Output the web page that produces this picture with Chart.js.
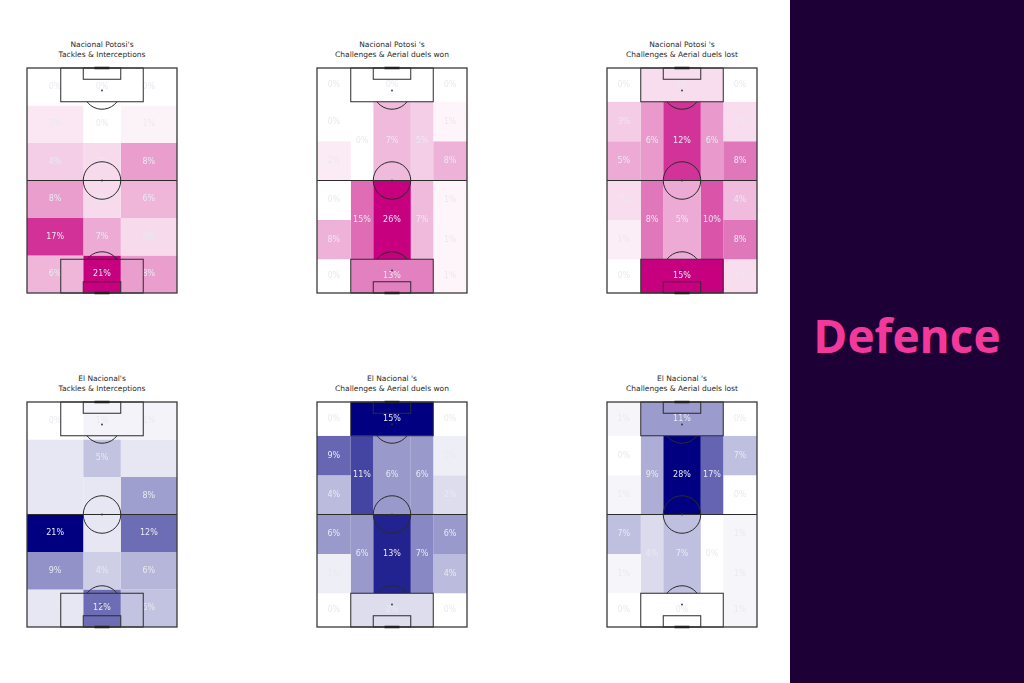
<!DOCTYPE html>
<html>
<head>
<meta charset="utf-8">
<script src="https://cdn.jsdelivr.net/npm/chart.js@4.4.0/dist/chart.umd.min.js"></script>
<style>
  body { margin: 0; width: 1024px; height: 683px; background: #fff; position: relative; overflow: hidden; font-family: "DejaVu Sans", sans-serif; }
  .title { position: absolute; width: 220px; text-align: center; font-size: 7.5px; line-height: 10px; color: #2a2a2a; }
  canvas { position: absolute; }
  #side { position: absolute; left: 790px; top: 0; width: 234px; height: 683px; background: #1c0036; }
  #side span { position: absolute; left: 0; width: 234px; top: 304px; text-align: center; font-family: "Open Sans", sans-serif; font-weight: 700; font-size: 46px; color: #f2399b; }
</style>
</head>
<body>
<div id="side"><span>Defence</span></div>
<script>
// タイトル
const titles = [
  ["Nacional Potosi's", "Tackles & Interceptions"],
  ["Nacional Potosi 's", "Challenges & Aerial duels won"],
  ["Nacional Potosi 's", "Challenges & Aerial duels lost"],
  ["El Nacional's", "Tackles & Interceptions"],
  ["El Nacional 's", "Challenges & Aerial duels won"],
  ["El Nacional 's", "Challenges & Aerial duels lost"]
];

// 3x6 のグリッド（StatsBomb 80x120, 上から下へ）
const gridCols = [0, 30, 50, 80];
const gridRows = [0, 20, 40, 60, 80, 100, 120];

// ポジショナル分割 [x0, x1, y0, y1]
const zones = [
  [0, 18, 0, 18], [18, 62, 0, 18], [62, 80, 0, 18],
  [0, 18, 18, 39], [0, 18, 39, 60], [0, 18, 60, 81], [0, 18, 81, 102],
  [18, 30, 18, 60], [18, 30, 60, 102],
  [30, 50, 18, 60], [30, 50, 60, 102],
  [50, 62, 18, 60], [50, 62, 60, 102],
  [62, 80, 18, 39], [62, 80, 39, 60], [62, 80, 60, 81], [62, 80, 81, 102],
  [0, 18, 102, 120], [18, 62, 102, 120], [62, 80, 102, 120]
];

// 値（%）
const potosiTackles = [0, 0, 0, 2, 0, 1, 4, 3, 8, 8, 3, 6, 17, 7, 3, 6, 21, 8];
const potosiWon     = [0, 0, 0, 0, 2, 0, 8, 0, 15, 7, 26, 5, 7, 1, 8, 1, 1, 0, 13, 1];
const potosiLost    = [0, 2, 0, 3, 5, 2, 1, 6, 8, 12, 5, 6, 10, 2, 8, 4, 8, 0, 15, 2];
const nacionalTackles = [0, 1, 1, 2, 5, 2, 2, 2, 8, 21, 2, 12, 9, 4, 6, 2, 12, 5];
const nacionalWon     = [0, 15, 0, 9, 4, 6, 1, 11, 6, 6, 13, 6, 7, 1, 2, 6, 4, 0, 2, 0];
const nacionalLost    = [1, 11, 0, 0, 1, 7, 1, 9, 4, 28, 7, 17, 0, 7, 0, 1, 1, 0, 0, 1];

const pink = [199, 0, 127];
const navy = [0, 0, 128];

// ピッチの位置
const pitchLeft = [27, 317, 607];
const pitchTop = [68, 402];
const PW = 150, PH = 225, PAD = 2;

function gridCells() {
  const out = [];
  for (let r = 0; r < gridRows.length - 1; r++)
    for (let c = 0; c < gridCols.length - 1; c++)
      out.push([gridCols[c], gridCols[c + 1], gridRows[r], gridRows[r + 1]]);
  return out;
}

function shade(v, max, end) {
  const t = max ? v / max : 0;
  const ch = i => Math.round(255 + (end[i] - 255) * t);
  return `rgb(${ch(0)},${ch(1)},${ch(2)})`;
}

function pitchPlugin(cells, values) {
  return {
    id: 'pitch',
    afterDatasetsDraw(chart) {
      const { ctx, scales: { x, y } } = chart;
      const px = v => x.getPixelForValue(v), py = v => y.getPixelForValue(v);
      const r = px(10) - px(0);
      ctx.save();
      // ラベル
      ctx.font = '8px "DejaVu Sans"';
      ctx.textAlign = 'center'; ctx.textBaseline = 'middle';
      ctx.fillStyle = '#e9e9f0';
      cells.forEach((c, i) => ctx.fillText(values[i] + '%', px((c[0] + c[1]) / 2), py((c[2] + c[3]) / 2)));
      // ライン
      ctx.strokeStyle = '#2b2b2b'; ctx.lineWidth = 1;
      const rect = (x0, x1, y0, y1) => ctx.strokeRect(px(x0), py(y0), px(x1) - px(x0), py(y1) - py(y0));
      rect(18, 62, 0, 18); rect(18, 62, 102, 120);
      rect(30, 50, 0, 6); rect(30, 50, 114, 120);
      ctx.beginPath(); ctx.moveTo(px(0), py(60)); ctx.lineTo(px(80), py(60)); ctx.stroke();
      ctx.beginPath(); ctx.arc(px(40), py(60), r, 0, Math.PI * 2); ctx.stroke();
      const a = Math.asin(0.6);
      ctx.beginPath(); ctx.arc(px(40), py(12), r, a, Math.PI - a); ctx.stroke();
      ctx.beginPath(); ctx.arc(px(40), py(108), r, Math.PI + a, Math.PI * 2 - a); ctx.stroke();
      ctx.fillStyle = '#333';
      [[40, 12], [40, 60], [40, 108]].forEach(p => { ctx.beginPath(); ctx.arc(px(p[0]), py(p[1]), 0.9, 0, Math.PI * 2); ctx.fill(); });
      ctx.lineWidth = 1.3; ctx.strokeStyle = '#3a3a3a';
      rect(0, 80, 0, 120);
      ctx.lineWidth = 2.5; ctx.strokeStyle = '#222';
      ctx.beginPath(); ctx.moveTo(px(36), py(0)); ctx.lineTo(px(44), py(0)); ctx.stroke();
      ctx.beginPath(); ctx.moveTo(px(36), py(120)); ctx.lineTo(px(44), py(120)); ctx.stroke();
      ctx.restore();
    }
  };
}

function drawPitch(idx, cells, values, end) {
  const left = pitchLeft[idx % 3], top = pitchTop[Math.floor(idx / 3)];
  const t = document.createElement('div');
  t.className = 'title';
  t.style.left = (left + PW / 2 - 110) + 'px';
  t.style.top = (top - 28) + 'px';
  t.innerHTML = titles[idx].join('<br>');
  document.body.appendChild(t);

  const cv = document.createElement('canvas');
  cv.width = PW + PAD * 2; cv.height = PH + PAD * 2;
  cv.style.left = (left - PAD) + 'px'; cv.style.top = (top - PAD) + 'px';
  document.body.appendChild(cv);

  const max = Math.max(...values);
  new Chart(cv, {
    type: 'line',
    data: {
      datasets: cells.map((c, i) => ({
        data: [{ x: c[0], y: c[2] }, { x: c[1], y: c[2] }, { x: c[1], y: c[3] }, { x: c[0], y: c[3] }, { x: c[0], y: c[2] }],
        fill: 'shape',
        backgroundColor: shade(values[i], max, end),
        borderColor: 'transparent',
        borderWidth: 0,
        pointRadius: 0,
        tension: 0
      }))
    },
    options: {
      responsive: false,
      animation: false,
      layout: { padding: PAD },
      plugins: { legend: { display: false }, tooltip: { enabled: false }, title: { display: false } },
      scales: {
        x: { type: 'linear', min: 0, max: 80, display: false },
        y: { type: 'linear', min: 0, max: 120, reverse: true, display: false }
      }
    },
    plugins: [pitchPlugin(cells, values)]
  });
}

drawPitch(0, gridCells(), potosiTackles, pink);
drawPitch(1, zones, potosiWon, pink);
drawPitch(2, zones, potosiLost, pink);
drawPitch(3, gridCells(), nacionalTackles, navy);
drawPitch(4, zones, nacionalWon, navy);
drawPitch(5, zones, nacionalLost, navy);
</script>
</body>
</html>
